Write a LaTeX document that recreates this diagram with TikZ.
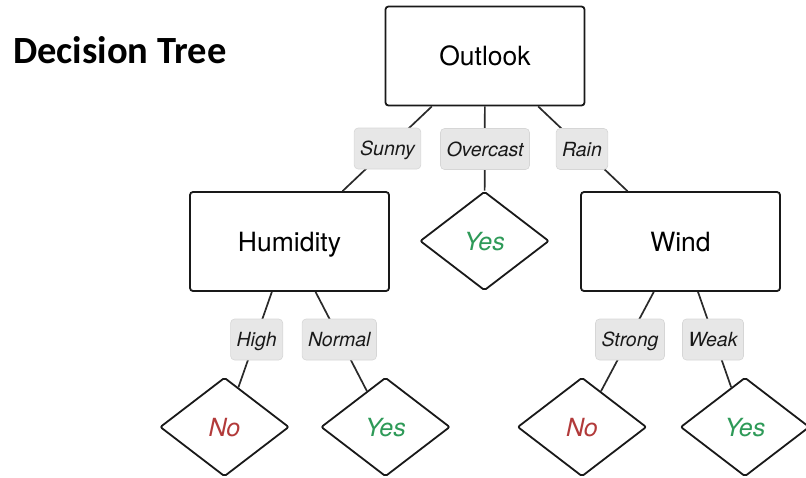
\documentclass[tikz,border=0pt]{standalone}
\usepackage{fontspec}
\setmainfont{TeX Gyre Heros}
\newfontfamily\titlefont{Carlito}
\usetikzlibrary{shapes.geometric}
\definecolor{yescol}{HTML}{2E9A58}
\definecolor{nocol}{HTML}{B23A3A}
\definecolor{tagfill}{HTML}{E7E7E7}
\definecolor{tagline}{HTML}{D6D6D6}
\definecolor{edgecol}{HTML}{2A2A2A}
\tikzset{
  % the text box holds the capital height only, so capitals sit centred
  attrbox/.style={draw=black!90, line width=1.8pt, rounded corners=3pt, fill=white,
    minimum width=199pt, minimum height=99pt, inner sep=0pt,
    text height=19pt, text depth=0pt,
    font=\fontsize{26.5}{30}\selectfont},
  leaf/.style={diamond, draw=black!90, line width=1.8pt, rounded corners=2pt, fill=white,
    minimum width=129pt, minimum height=99pt, inner sep=0pt,
    text height=18pt, text depth=0pt,
    font=\fontsize{25}{29}\selectfont\itshape},
  yesleaf/.style={leaf, text=yescol},
  noleaf/.style={leaf, text=nocol},
  tag/.style={draw=tagline, fill=tagfill, line width=0.6pt, rounded corners=4pt,
    minimum height=41pt, inner sep=0pt, inner xsep=6pt,
    text height=14pt, text depth=0pt,
    font=\fontsize{19.5}{23}\selectfont\itshape, text=black!90},
  edge/.style={draw=edgecol, line width=1.7pt}
}
\begin{document}
\begin{tikzpicture}[x=1pt, y=-1pt]
\useasboundingbox (0,0) rectangle (806,477);

% title
\node[anchor=base west, inner sep=0pt, font=\titlefont\bfseries\fontsize{38.5}{42}\selectfont]
  (title) at (13,63) {Decision Tree};

% attribute boxes
\node[attrbox] (outlook)  at (485,56)    {Outlook};
\node[attrbox] (humidity) at (289.5,241.5) {Humidity};
\node[attrbox] (wind)     at (680.5,241.5) {Wind};

% leaves
\node[yesleaf] (ovyes)   at (484.5,241) {Yes};
\node[noleaf]  (highno)  at (224.5,427) {No};
\node[yesleaf] (normyes) at (385.5,427) {Yes};
\node[noleaf]  (strno)   at (582,427)   {No};
\node[yesleaf] (weakyes) at (745,427)   {Yes};

% branches
\draw[edge] (outlook) -- (humidity);
\draw[edge] (outlook) -- (ovyes);
\draw[edge] (outlook) -- (wind);
\draw[edge] (humidity) -- (highno);
\draw[edge] (humidity) -- (normyes);
\draw[edge] (wind) -- (strno);
\draw[edge] (wind) -- (weakyes);

% branch values
\node[tag] (sunny)    at (387.5,148.5) {Sunny};
\node[tag] (overcast) at (485,149)     {Overcast};
\node[tag] (rain)     at (582,149)     {Rain};
\node[tag] (high)     at (256.7,339.5) {High};
\node[tag] (normal)   at (339.3,339.5) {Normal};
\node[tag] (strong)   at (630,339.5)   {Strong};
\node[tag] (weak)     at (713,339.5)   {Weak};
\end{tikzpicture}
\end{document}
